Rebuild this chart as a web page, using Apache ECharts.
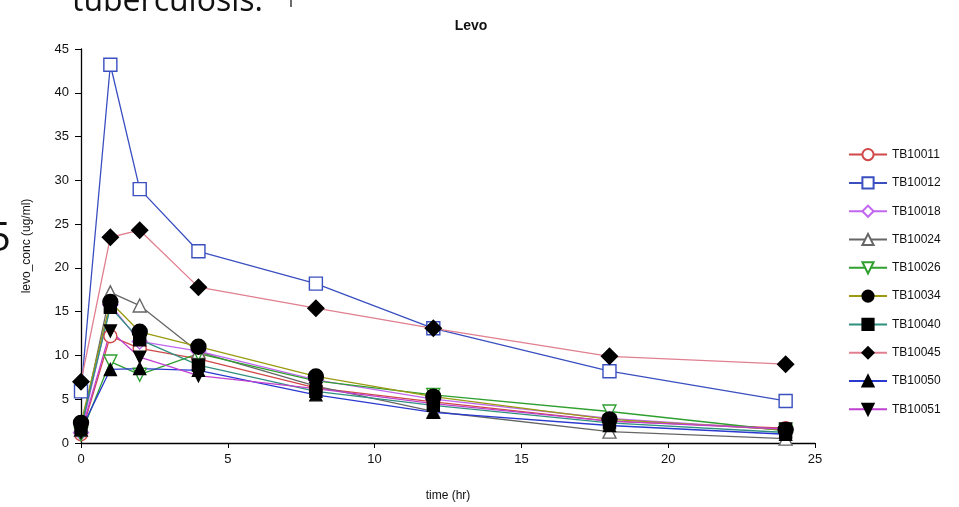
<!DOCTYPE html>
<html>
<head>
<meta charset="utf-8">
<script src="https://cdn.jsdelivr.net/npm/echarts@6/dist/echarts.min.js"></script>
<style>
  html, body { margin: 0; padding: 0; background: #fff; }
  #chart { width: 959px; height: 507px; }
</style>
</head>
<body>
<div id="chart"></div>
<script>
// sampling times (hr)
const times = [0, 1, 2, 4, 8, 12, 18, 24];

// levofloxacin concentration per patient (ug/ml)
const TB10011 = [1.0, 12.2, 10.8, 9.6, 6.3, 4.7, 2.5, 1.7];
const TB10012 = [5.9, 43.2, 29.0, 21.9, 18.2, 13.1, 8.2, 4.8];
const TB10018 = [1.2, 15.8, 11.6, 10.5, 7.2, 5.0, 2.8, 1.5];
const TB10024 = [1.5, 17.2, 15.7, 10.4, 6.5, 3.6, 1.3, 0.5];
const TB10026 = [1.0, 9.3, 7.8, 10.2, 7.1, 5.5, 3.6, 1.4];
const TB10034 = [2.3, 16.1, 12.7, 11.0, 7.6, 5.3, 2.7, 1.5];
const TB10040 = [1.8, 15.5, 11.8, 8.9, 5.9, 4.3, 2.3, 1.2];
const TB10045 = [7.0, 23.5, 24.3, 17.8, 15.4, 13.1, 9.9, 9.0];
const TB10050 = [1.5, 8.4, 8.5, 8.3, 5.5, 3.5, 2.0, 1.0];
const TB10051 = [1.2, 12.8, 9.8, 7.7, 6.2, 4.5, 2.5, 1.6];

const downTri = "path://M0,0 L10,0 L5,9 Z";
const styles = [
  { name: "TB10011", data: TB10011, line: "#d04848", symbol: "circle", fill: "#fff", size: 13 },
  { name: "TB10012", data: TB10012, line: "#3a4fc0", symbol: "rect", fill: "#fff", size: 13 },
  { name: "TB10018", data: TB10018, line: "#c066f0", symbol: "diamond", fill: "#fff", size: 15 },
  { name: "TB10024", data: TB10024, line: "#666666", symbol: "triangle", fill: "#fff", size: 13 },
  { name: "TB10026", data: TB10026, line: "#2fa02f", symbol: downTri, fill: "#fff", size: 13 },
  { name: "TB10034", data: TB10034, line: "#9a9a10", symbol: "circle", fill: "#000", size: 15 },
  { name: "TB10040", data: TB10040, line: "#2f9080", symbol: "rect", fill: "#000", size: 12 },
  { name: "TB10045", data: TB10045, line: "#e07f8f", symbol: "diamond", fill: "#000", size: 16 },
  { name: "TB10050", data: TB10050, line: "#2a3ad0", symbol: "triangle", fill: "#000", size: 12 },
  { name: "TB10051", data: TB10051, line: "#c040d0", symbol: downTri, fill: "#000", size: 12 }
];

const font = "Liberation Sans, Arial, sans-serif";

const series = styles.map(s => ({
  name: s.name,
  type: "line",
  data: times.map((t, i) => [t, s.data[i]]),
  symbol: s.symbol,
  symbolSize: s.size,
  lineStyle: { color: s.line, width: 1.3 },
  itemStyle: {
    color: s.fill,
    borderColor: s.fill === "#fff" ? s.line : "#000",
    borderWidth: 1.4
  },
  animation: false
}));

const chart = echarts.init(document.getElementById("chart"), null, { renderer: "canvas" });
chart.setOption({
  backgroundColor: "#fff",
  animation: false,
  title: {
    text: "Levo",
    left: 466, top: 14, textAlign: "center",
    textStyle: { fontFamily: font, fontSize: 14, fontWeight: "bold", color: "#111" }
  },
  grid: { left: 81, right: 144, top: 49, bottom: 64 },
  xAxis: {
    type: "value", min: 0, max: 25, interval: 5,
    name: "time (hr)", nameLocation: "middle", nameGap: 47,
    nameTextStyle: { fontFamily: font, fontSize: 12, color: "#111" },
    axisLine: { onZero: false, lineStyle: { color: "#000", width: 1.3 } },
    axisTick: { show: true, length: 5, lineStyle: { color: "#000" } },
    axisLabel: { fontFamily: font, fontSize: 13, color: "#111", margin: 10 },
    splitLine: { show: false }
  },
  yAxis: {
    type: "value", min: 0, max: 45, interval: 5,
    name: "levo_conc (ug/ml)", nameLocation: "middle", nameGap: 48,
    nameTextStyle: { fontFamily: font, fontSize: 12, color: "#111" },
    axisLine: { show: true, lineStyle: { color: "#000", width: 1.3 } },
    axisTick: { show: true, length: 6, lineStyle: { color: "#000" } },
    axisLabel: { fontFamily: font, fontSize: 13, color: "#111", margin: 12 },
    splitLine: { show: false }
  },
  legend: {
    orient: "vertical", left: 843, top: 143,
    itemWidth: 38, itemHeight: 14, itemGap: 15.1,
    textStyle: { fontFamily: font, fontSize: 12, color: "#111" },
    data: styles.map(s => s.name)
  },
  graphic: [
    { type: "text", left: 72, top: -14,
      style: { text: "tuberculosis.", font: "32px 'Open Sans', sans-serif", fill: "#111" } },
    { type: "text", left: 286, top: -6,
      style: { text: "1", font: "16px 'Open Sans', sans-serif", fill: "#111" } },
    { type: "text", left: -12, top: 220,
      style: { text: "5", font: "40px 'Open Sans', sans-serif", fill: "#111" } }
  ],
  series: series
});
</script>
</body>
</html>
